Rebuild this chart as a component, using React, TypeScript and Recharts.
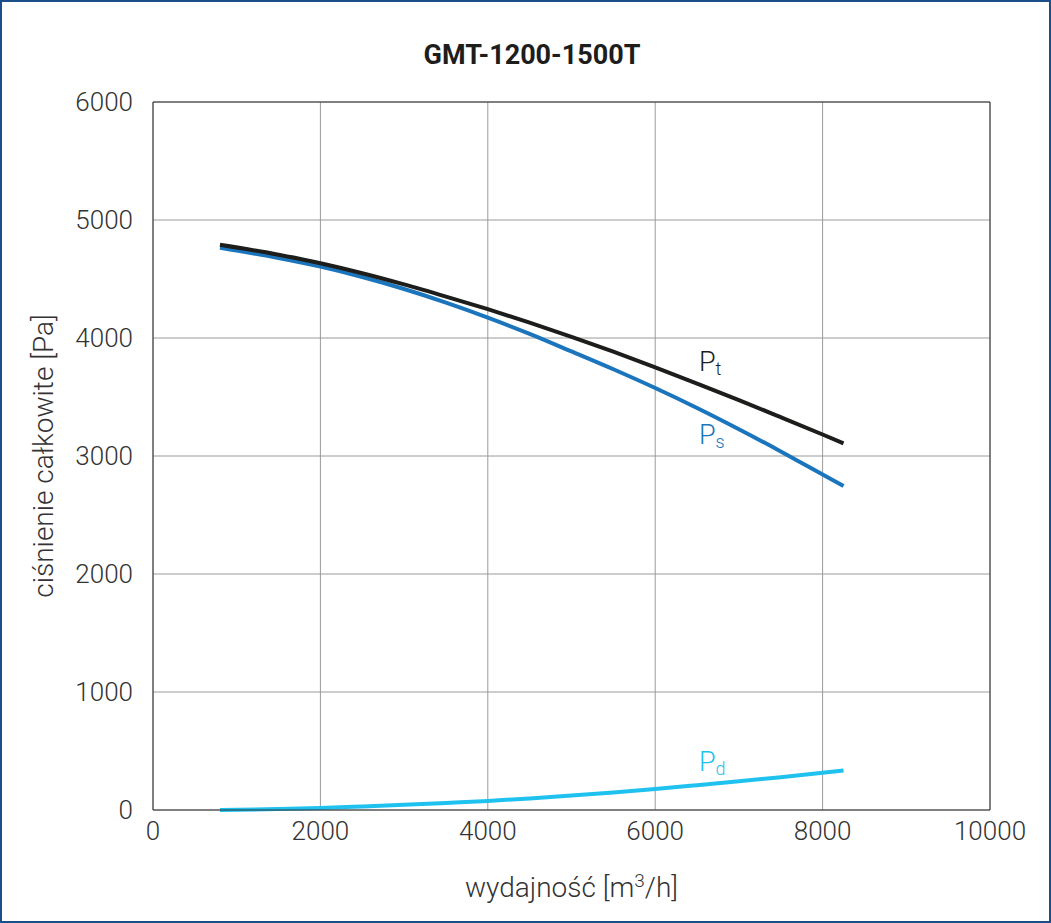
import React from "react";
import {
  LineChart,
  Line,
  XAxis,
  YAxis,
  CartesianGrid,
  ReferenceLine,
  ReferenceDot,
  Label,
} from "recharts";

// wydajność [m3/h]
const flow = [800, 1500, 2000, 2500, 3000, 3500, 4000, 4500, 5000, 5500, 6000, 6500, 7000, 7500, 8000, 8250];
// ciśnienie całkowite Pt [Pa]
const pt = [4790, 4706, 4634, 4549, 4454, 4351, 4244, 4130, 4010, 3884, 3752, 3614, 3474, 3329, 3182, 3107];
// ciśnienie statyczne Ps [Pa]
const ps = [4765, 4678, 4605, 4517, 4415, 4300, 4173, 4035, 3886, 3735, 3576, 3407, 3227, 3039, 2843, 2745];
// ciśnienie dynamiczne Pd [Pa]
const pd = [0, 8, 17, 30, 44, 60, 77, 98, 122, 149, 178, 210, 243, 278, 315, 335];

const xTicks = [0, 2000, 4000, 6000, 8000, 10000];
const yTicks = [0, 1000, 2000, 3000, 4000, 5000, 6000];

const curveLabels = [
  { sub: "t", x: 6523, y: 3720, color: "#1d1d1b" },
  { sub: "s", x: 6523, y: 3100, color: "#1b75bc" },
  { sub: "d", x: 6523, y: 331, color: "#1fc1ef" },
];

const data = flow.map((q, i) => ({ q, pt: pt[i], ps: ps[i], pd: pd[i] }));

const font = "Roboto, 'DejaVu Sans', sans-serif";

export default function App() {
  return (
    <div style={{ position: "absolute", left: 0, top: 0, width: 1051, height: 923, background: "#fff" }}>
      <LineChart
        width={1051}
        height={923}
        data={data}
        margin={{ top: 102, right: 61, bottom: 73, left: 53 }}
      >
        <text
          x={532}
          y={55}
          textAnchor="middle"
          dominantBaseline="central"
          fontFamily={font}
          fontWeight={700}
          fontSize={27}
          fill="#1d1d1b"
        >
          GMT-1200-1500T
        </text>

        <CartesianGrid stroke="#9a9a9a" strokeWidth={1} />

        <XAxis
          dataKey="q"
          type="number"
          domain={[0, 10000]}
          ticks={xTicks}
          height={40}
          tickLine={false}
          tickSize={0}
          tickMargin={12}
          stroke="#333"
          tick={{ fontFamily: font, fontWeight: 300, fontSize: 26, fill: "#333" }}
        >
          <Label
            content={({ viewBox }: any) => (
              <text
                x={viewBox.x + viewBox.width / 2}
                y={897}
                textAnchor="middle"
                fontFamily={font}
                fontWeight={300}
                fontSize={28}
                fill="#333"
              >
                wydajność [m
                <tspan dy={-10} fontSize={19}>3</tspan>
                <tspan dy={10}>/h]</tspan>
              </text>
            )}
          />
        </XAxis>

        <YAxis
          type="number"
          domain={[0, 6000]}
          ticks={yTicks}
          width={100}
          tickLine={false}
          tickSize={0}
          tickMargin={20}
          stroke="#333"
          tick={{ fontFamily: font, fontWeight: 300, fontSize: 26, fill: "#333" }}
        >
          <Label
            content={({ viewBox }: any) => {
              const cx = viewBox.x - 10;
              const cy = viewBox.y + viewBox.height / 2;
              return (
                <text
                  x={cx}
                  y={cy}
                  transform={`rotate(-90 ${cx} ${cy})`}
                  textAnchor="middle"
                  dominantBaseline="central"
                  fontFamily={font}
                  fontWeight={300}
                  fontSize={28}
                  fill="#333"
                >
                  ciśnienie całkowite [Pa]
                </text>
              );
            }}
          />
        </YAxis>

        <ReferenceLine x={10000} stroke="#333" />
        <ReferenceLine y={6000} stroke="#333" />

        <Line
          type="monotone"
          dataKey="pd"
          stroke="#1fc1ef"
          strokeWidth={4}
          dot={false}
          isAnimationActive={false}
        />
        <Line
          type="monotone"
          dataKey="ps"
          stroke="#1b75bc"
          strokeWidth={4}
          dot={false}
          isAnimationActive={false}
        />
        <Line
          type="monotone"
          dataKey="pt"
          stroke="#1d1d1b"
          strokeWidth={4}
          dot={false}
          isAnimationActive={false}
        />

        {curveLabels.map((c) => (
          <ReferenceDot
            key={c.sub}
            x={c.x}
            y={c.y}
            r={0}
            stroke="none"
            fill="none"
            label={{
              content: ({ viewBox }: any) => (
                <text
                  x={viewBox.x}
                  y={viewBox.y}
                  fontFamily={font}
                  fontWeight={300}
                  fontSize={27}
                  fill={c.color}
                >
                  P
                  <tspan dy={4} fontSize={18}>{c.sub}</tspan>
                </text>
              ),
            }}
          />
        ))}
      </LineChart>
      <div
        style={{
          position: "absolute",
          inset: 0,
          border: "2px solid #1b4f8a",
          pointerEvents: "none",
        }}
      />
    </div>
  );
}
